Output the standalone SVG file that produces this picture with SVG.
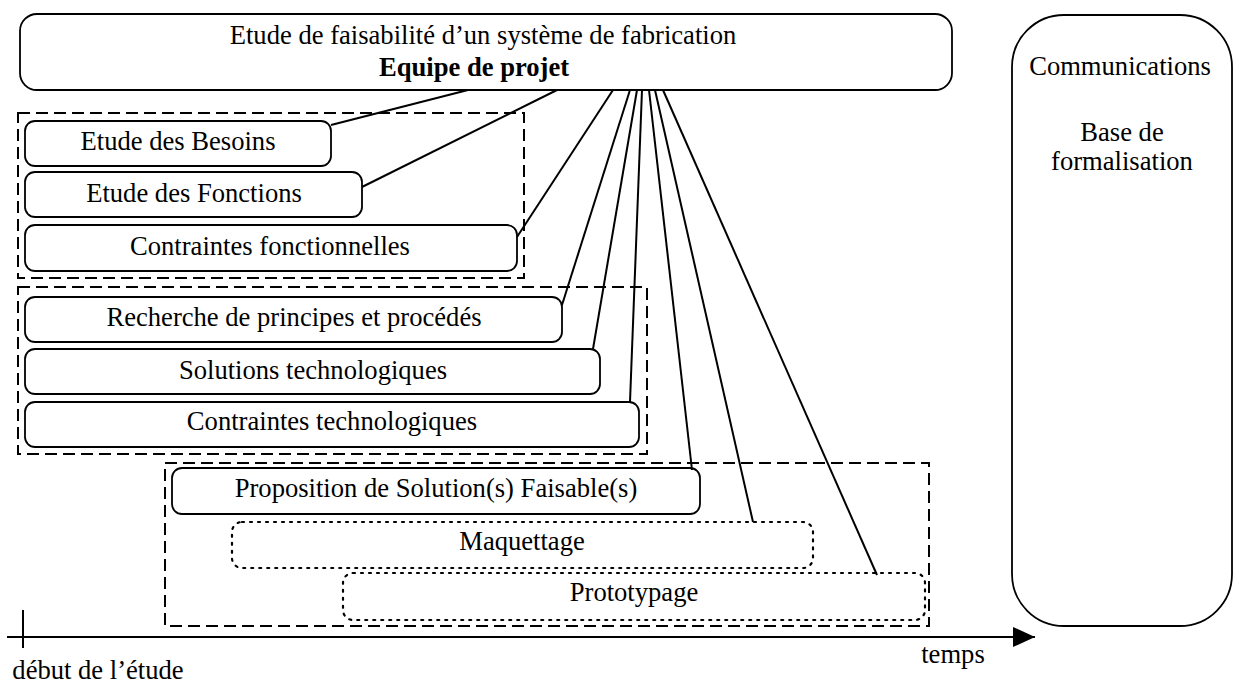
<svg xmlns="http://www.w3.org/2000/svg" width="1233" height="685" viewBox="0 0 1233 685">
<style>
  .box { fill: #fff; stroke: #000; stroke-width: 1.8; }
  .dotbox { fill: none; stroke: #000; stroke-width: 2.2; stroke-dasharray: 2 6; stroke-linecap: round; }
  .grp { fill: none; stroke: #000; stroke-width: 2; stroke-dasharray: 12 6; }
  .t { font-family: "Liberation Serif", "Times New Roman", serif; font-size: 26.6px; fill: #000; text-anchor: middle; }
  .b { font-weight: bold; }
  .c { stroke: #000; stroke-width: 2; fill: none; }
</style>
<defs>
  <marker id="arrow" viewBox="0 0 22 20" refX="22" refY="10" markerWidth="22" markerHeight="20" markerUnits="userSpaceOnUse" orient="auto">
    <path d="M0,0 L22,10 L0,20 Z" fill="#000"/>
  </marker>
</defs>
<rect width="1233" height="685" fill="#fff"/>

<g id="groups">
  <rect id="grp-fonctionnel" class="grp" x="18" y="113" width="506" height="165"/>
  <rect id="grp-technologique" class="grp" x="18" y="287" width="629" height="167"/>
  <rect id="grp-solution" class="grp" x="165" y="463" width="764" height="163"/>
</g>

<g id="equipe">
  <rect class="box" x="20" y="14" width="932" height="76" rx="17"/>
  <text class="t" x="483" y="44">Etude de faisabilité d’un système de fabrication</text>
  <text class="t b" x="474" y="76">Equipe de projet</text>
</g>

<g id="communications">
  <rect class="box" x="1012" y="15" width="220" height="611" rx="52"/>
  <text class="t" x="1120" y="75">Communications</text>
  <text class="t" x="1122" y="141">Base de</text>
  <text class="t" x="1122" y="170">formalisation</text>
</g>

<g id="besoins">
  <rect class="box" x="25" y="121" width="306" height="45" rx="10"/>
  <text class="t" x="178" y="150">Etude des Besoins</text>
</g>
<g id="fonctions">
  <rect class="box" x="25" y="172" width="337" height="45" rx="10"/>
  <text class="t" x="194" y="202">Etude des Fonctions</text>
</g>
<g id="contraintes-fonctionnelles">
  <rect class="box" x="25" y="225" width="492" height="46" rx="10"/>
  <text class="t" x="270" y="255">Contraintes fonctionnelles</text>
</g>

<g id="recherche">
  <rect class="box" x="25" y="297" width="537" height="45" rx="10"/>
  <text class="t" x="294" y="326">Recherche de principes et procédés</text>
</g>
<g id="solutions">
  <rect class="box" x="25" y="349" width="575" height="45" rx="10"/>
  <text class="t" x="313" y="379">Solutions technologiques</text>
</g>
<g id="contraintes-technologiques">
  <rect class="box" x="25" y="402" width="614" height="45" rx="10"/>
  <text class="t" x="332" y="430">Contraintes technologiques</text>
</g>

<g id="proposition">
  <rect class="box" x="172" y="468" width="528" height="46" rx="10"/>
  <text class="t" x="436" y="497">Proposition de Solution(s) Faisable(s)</text>
</g>
<g id="maquettage">
  <rect class="dotbox" x="232" y="522" width="581" height="46" rx="10"/>
  <text class="t" x="522" y="550">Maquettage</text>
</g>
<g id="prototypage">
  <rect class="dotbox" x="343" y="573" width="582" height="47" rx="10"/>
  <text class="t" x="634" y="601">Prototypage</text>
</g>

<g id="connectors">
  <line class="c" x1="468" y1="90" x2="331" y2="125"/>
  <line class="c" x1="557" y1="90" x2="362" y2="187"/>
  <line class="c" x1="613" y1="90" x2="517" y2="237"/>
  <line class="c" x1="630" y1="90" x2="562" y2="305"/>
  <line class="c" x1="637" y1="90" x2="593" y2="349"/>
  <line class="c" x1="642" y1="90" x2="630" y2="402"/>
  <line class="c" x1="649" y1="90" x2="692" y2="470"/>
  <line class="c" x1="655" y1="90" x2="753" y2="522"/>
  <line class="c" x1="663" y1="90" x2="877" y2="575"/>
</g>

<g id="axe-temps">
  <line class="c" x1="7" y1="637" x2="1035" y2="637" marker-end="url(#arrow)"/>
  <line class="c" x1="23" y1="610" x2="23" y2="648"/>
  <text class="t" x="953" y="663">temps</text>
  <text class="t" x="98" y="679">début de l’étude</text>
</g>
</svg>
